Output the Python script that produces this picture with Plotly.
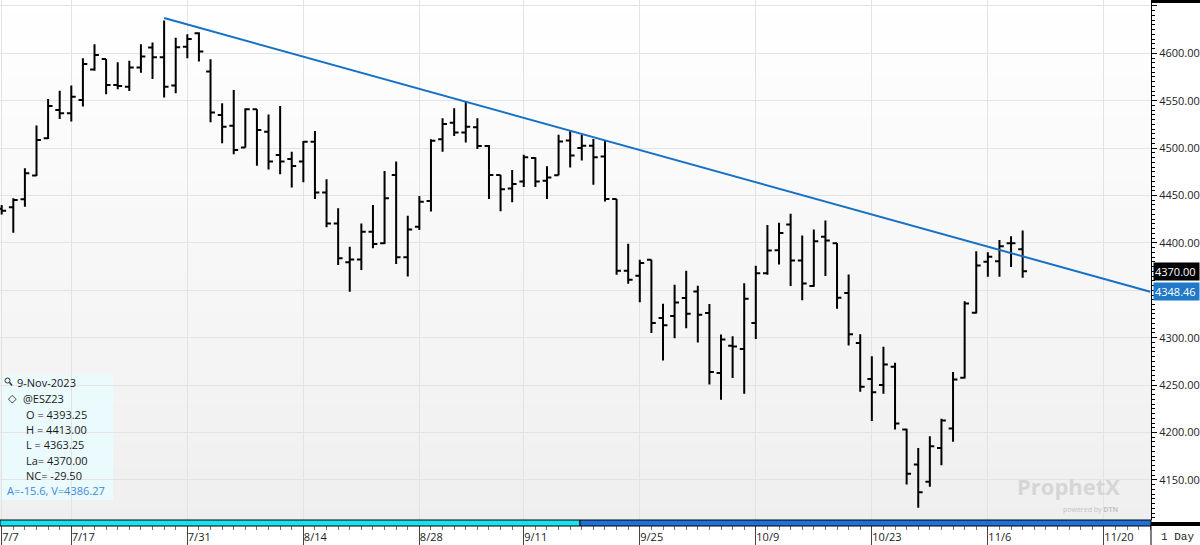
import plotly.graph_objects as go

# ---------------- data ----------------
dates = [
    "2023-07-07", "2023-07-10", "2023-07-11", "2023-07-12", "2023-07-13", "2023-07-14", "2023-07-17", "2023-07-18", "2023-07-19", "2023-07-20",
    "2023-07-21", "2023-07-24", "2023-07-25", "2023-07-26", "2023-07-27", "2023-07-28", "2023-07-31", "2023-08-01", "2023-08-02", "2023-08-03",
    "2023-08-04", "2023-08-07", "2023-08-08", "2023-08-09", "2023-08-10", "2023-08-11", "2023-08-14", "2023-08-15", "2023-08-16", "2023-08-17",
    "2023-08-18", "2023-08-21", "2023-08-22", "2023-08-23", "2023-08-24", "2023-08-25", "2023-08-28", "2023-08-29", "2023-08-30", "2023-08-31",
    "2023-09-01", "2023-09-05", "2023-09-06", "2023-09-07", "2023-09-08", "2023-09-11", "2023-09-12", "2023-09-13", "2023-09-14", "2023-09-15",
    "2023-09-18", "2023-09-19", "2023-09-20", "2023-09-21", "2023-09-22", "2023-09-25", "2023-09-26", "2023-09-27", "2023-09-28", "2023-09-29",
    "2023-10-02", "2023-10-03", "2023-10-04", "2023-10-05", "2023-10-06", "2023-10-09", "2023-10-10", "2023-10-11", "2023-10-12", "2023-10-13",
    "2023-10-16", "2023-10-17", "2023-10-18", "2023-10-19", "2023-10-20", "2023-10-23", "2023-10-24", "2023-10-25", "2023-10-26", "2023-10-27",
    "2023-10-30", "2023-10-31", "2023-11-01", "2023-11-02", "2023-11-03", "2023-11-06", "2023-11-07", "2023-11-08", "2023-11-09",
]

opens = [
    4436.00, 4437.50, 4446.00, 4471.00, 4510.25, 4540.25, 4536.75, 4550.75, 4583.00, 4594.00,
    4566.50, 4564.75, 4585.00, 4606.00, 4595.75, 4566.00, 4607.00, 4621.00, 4580.75, 4535.00,
    4523.50, 4500.50, 4541.00, 4517.25, 4492.75, 4488.50, 4485.75, 4506.75, 4453.25, 4420.50,
    4379.50, 4382.50, 4411.75, 4399.50, 4471.50, 4384.75, 4417.00, 4444.25, 4509.25, 4526.75,
    4516.50, 4522.00, 4502.25, 4471.50, 4457.50, 4464.75, 4489.50, 4465.50, 4471.25, 4508.00,
    4500.00, 4502.50, 4491.25, 4446.25, 4370.50, 4365.25, 4382.25, 4320.75, 4323.00, 4341.75,
    4348.75, 4326.00, 4262.75, 4291.50, 4288.00, 4315.50, 4368.00, 4392.25, 4419.50, 4381.50,
    4354.50, 4406.50, 4399.50, 4347.25, 4294.50, 4256.50, 4250.00, 4269.25, 4203.25, 4166.25,
    4148.00, 4183.75, 4204.25, 4257.75, 4326.25, 4380.00, 4380.75, 4399.50, 4393.25,
]

highs = [
    4440.00, 4447.00, 4478.75, 4523.75, 4551.75, 4560.50, 4566.00, 4594.75, 4609.50, 4594.00,
    4590.50, 4592.25, 4609.50, 4611.25, 4634.50, 4616.50, 4620.00, 4622.25, 4593.75, 4547.25,
    4561.25, 4542.00, 4541.00, 4535.50, 4544.50, 4496.25, 4507.50, 4518.00, 4467.00, 4436.50,
    4396.00, 4420.50, 4440.00, 4475.75, 4485.75, 4428.75, 4449.50, 4509.25, 4531.50, 4542.00,
    4549.00, 4531.50, 4503.25, 4471.50, 4477.00, 4493.00, 4490.25, 4480.75, 4514.00, 4518.50,
    4514.00, 4509.50, 4508.00, 4446.25, 4399.00, 4382.25, 4382.25, 4335.75, 4355.75, 4370.50,
    4354.75, 4335.50, 4303.25, 4301.50, 4357.50, 4376.00, 4419.00, 4421.25, 4430.75, 4407.75,
    4414.00, 4423.50, 4400.00, 4366.75, 4303.50, 4280.50, 4290.50, 4273.50, 4204.00, 4183.75,
    4196.00, 4214.50, 4263.75, 4338.50, 4391.25, 4390.25, 4403.00, 4407.00, 4413.00,
]

lows = [
    4430.00, 4410.75, 4438.25, 4470.50, 4509.50, 4530.75, 4528.00, 4543.75, 4581.50, 4556.75,
    4562.00, 4560.25, 4579.50, 4573.00, 4553.25, 4557.75, 4594.75, 4591.25, 4527.25, 4505.00,
    4493.50, 4500.50, 4481.25, 4477.50, 4472.50, 4458.50, 4464.00, 4446.25, 4416.50, 4376.75,
    4348.50, 4371.50, 4394.25, 4398.75, 4377.75, 4364.50, 4413.50, 4433.00, 4496.25, 4512.75,
    4506.00, 4499.00, 4446.25, 4433.50, 4442.75, 4459.00, 4459.00, 4446.25, 4471.25, 4479.50,
    4487.00, 4461.25, 4443.75, 4366.50, 4357.00, 4337.50, 4305.00, 4276.00, 4299.50, 4310.00,
    4295.00, 4250.50, 4234.50, 4257.50, 4241.00, 4298.50, 4366.50, 4377.25, 4354.50, 4339.50,
    4353.75, 4365.00, 4330.50, 4291.75, 4243.00, 4212.00, 4241.00, 4203.25, 4145.25, 4120.50,
    4142.75, 4165.50, 4190.25, 4257.00, 4325.50, 4364.25, 4364.25, 4374.50, 4363.25,
]

closes = [
    4434.00, 4445.25, 4473.50, 4508.50, 4544.50, 4536.75, 4554.25, 4588.75, 4598.25, 4566.50,
    4565.50, 4585.00, 4596.50, 4595.75, 4564.75, 4606.25, 4615.00, 4601.75, 4537.50, 4522.50,
    4498.00, 4541.00, 4519.00, 4485.75, 4485.75, 4481.00, 4506.75, 4453.25, 4420.50, 4383.75,
    4382.50, 4411.75, 4398.75, 4447.00, 4384.75, 4414.25, 4443.50, 4507.75, 4525.50, 4516.50,
    4522.50, 4502.25, 4471.50, 4456.50, 4462.00, 4490.25, 4464.75, 4469.00, 4507.00, 4492.25,
    4502.50, 4490.25, 4446.25, 4370.50, 4361.00, 4378.75, 4315.50, 4313.00, 4337.25, 4325.25,
    4324.25, 4263.75, 4298.00, 4290.75, 4341.00, 4368.00, 4392.00, 4410.50, 4381.50, 4357.25,
    4401.75, 4402.50, 4342.00, 4303.50, 4248.25, 4242.50, 4271.75, 4209.50, 4156.50, 4137.00,
    4185.50, 4212.75, 4256.00, 4336.00, 4376.25, 4385.25, 4396.50, 4399.50, 4370.00,
]

# trend line (drawn from the 7/27 high through the right edge)
trend_dates = ["2023-07-27", "2023-11-24"]
trend_values = [4637.20, 4348.46]

# info panel values
symbol = "@ESZ23"
cursor_label = "9-Nov-2023"
trend_angle = -15.6
trend_value_at_cursor = 4386.27

# axis ticks
x_tick_dates = ["2023-07-07", "2023-07-17", "2023-07-31", "2023-08-14", "2023-08-28", "2023-09-11",
                "2023-09-25", "2023-10-09", "2023-10-23", "2023-11-06", "2023-11-20"]
x_tick_labels = ["7/7", "7/17", "7/31", "8/14", "8/28", "9/11", "9/25", "10/9", "10/23", "11/6", "11/20"]
y_tick_values = [4150, 4200, 4250, 4300, 4350, 4400, 4450, 4500, 4550, 4600, 4650]
# 4350.00 is hidden behind the price tags in the reference
y_tick_labels = ["4150.00", "4200.00", "4250.00", "4300.00", "", "4400.00",
                 "4450.00", "4500.00", "4550.00", "4600.00", ""]
holidays = ["2023-09-04"]

# ---------------- geometry helpers ----------------
PW = 1151.0   # plot width in px
PH = 520.0    # plot height in px


def px(xp):
    return xp / PW


def py(yp):
    return (PH - yp) / PH


fig = go.Figure()

fig.add_trace(go.Ohlc(
    x=dates, open=opens, high=highs, low=lows, close=closes,
    increasing=dict(line=dict(color="black", width=2)),
    decreasing=dict(line=dict(color="black", width=2)),
    tickwidth=0.38, hoverinfo="skip", showlegend=False,
))

fig.add_trace(go.Scatter(
    x=trend_dates, y=trend_values, mode="lines",
    line=dict(color="#1670c6", width=2), hoverinfo="skip", showlegend=False,
))

shapes = []
# vertical gradient background
N = 40
for k in range(N):
    g = round(255 - (255 - 239) * (k + 0.5) / N)
    shapes.append(dict(type="rect", xref="paper", yref="paper", layer="below",
                       x0=0, x1=1, y0=1 - (k + 1) / N, y1=1 - k / N,
                       fillcolor=f"rgb({g},{g},{g})", line=dict(width=0)))
# info panel background
shapes.append(dict(type="rect", xref="paper", yref="paper", layer="below",
                   x0=px(2), x1=px(113), y0=py(500), y1=py(375),
                   fillcolor="#ebfafd", line=dict(width=0)))
# scroll band under the plot
shapes.append(dict(type="rect", xref="paper", yref="paper", layer="above",
                   x0=0, x1=px(580), y0=py(526), y1=py(520),
                   fillcolor="#18e2ee", line=dict(color="black", width=1)))
shapes.append(dict(type="rect", xref="paper", yref="paper", layer="above",
                   x0=px(580), x1=1, y0=py(526), y1=py(520),
                   fillcolor="#1f70d8", line=dict(color="black", width=1)))
shapes.append(dict(type="rect", xref="paper", yref="paper", layer="above",
                   x0=1, x1=px(1200), y0=py(526), y1=py(522),
                   fillcolor="black", line=dict(width=0)))
# top black bar over the price axis
shapes.append(dict(type="rect", xref="paper", yref="paper", layer="above",
                   x0=1, x1=px(1200), y0=py(3), y1=1,
                   fillcolor="black", line=dict(width=0)))
# separator for the period box
shapes.append(dict(type="line", xref="paper", yref="paper", layer="above",
                   x0=1, x1=1, y0=py(526), y1=py(545),
                   line=dict(color="black", width=1)))
# magnifier icon
shapes.append(dict(type="circle", xref="paper", yref="paper", layer="above",
                   x0=px(5), x1=px(10), y0=py(383), y1=py(378),
                   line=dict(color="#333", width=1)))
shapes.append(dict(type="line", xref="paper", yref="paper", layer="above",
                   x0=px(9.5), x1=px(12), y0=py(382.5), y1=py(385.5),
                   line=dict(color="#333", width=1.5)))

annotations = []


def info(text, xp, yp, color="#1a1a1a", size=11, family="Open Sans, sans-serif"):
    annotations.append(dict(text=text, xref="paper", yref="paper", x=px(xp), y=py(yp),
                            xanchor="left", yanchor="middle", showarrow=False,
                            font=dict(size=size, color=color, family=family)))


net_change = closes[-1] - closes[-2]
info(cursor_label, 15, 382)
info("◇", 6, 398, size=11, family="DejaVu Sans")
info(symbol, 21, 398)
info(f"O = {opens[-1]:.2f}", 24, 414)
info(f"H = {highs[-1]:.2f}", 24, 429.5)
info(f"L = {lows[-1]:.2f}", 24, 444.5)
info(f"La= {closes[-1]:.2f}", 24, 460)
info(f"NC= {net_change:.2f}", 24, 475.5)
info(f"A={trend_angle:.1f}, V={trend_value_at_cursor:.2f}", 5, 490, color="#3a8ad6")

# price tags on the axis
annotations.append(dict(text=f"{closes[-1]:.2f}", xref="paper", yref="y", x=1, y=closes[-1],
                        xanchor="left", yanchor="middle", xshift=2, showarrow=False,
                        bgcolor="black", borderpad=1, width=43, align="left",
                        font=dict(size=11, color="white", family="Open Sans, sans-serif")))
annotations.append(dict(text=f"{trend_values[-1]:.2f}", xref="paper", yref="y", x=1, y=trend_values[-1],
                        xanchor="left", yanchor="middle", xshift=2, showarrow=False,
                        bgcolor="#1f78c8", borderpad=1, width=43, align="left",
                        font=dict(size=11, color="white", family="Open Sans, sans-serif")))
# period box
annotations.append(dict(text="1 Day", xref="paper", yref="paper", x=px(1159), y=py(537),
                        xanchor="left", yanchor="middle", showarrow=False,
                        font=dict(size=11, color="#222", family="Liberation Mono, monospace")))
# watermark
annotations.append(dict(text="<b>ProphetX</b>", xref="paper", yref="paper", x=px(1122), y=py(486),
                        xanchor="right", yanchor="middle", showarrow=False,
                        font=dict(size=22, color="#d6d6d6", family="Open Sans, sans-serif")))
annotations.append(dict(text="powered by <b>DTN</b>", xref="paper", yref="paper", x=px(1121), y=py(509),
                        xanchor="right", yanchor="middle", showarrow=False,
                        font=dict(size=7, color="#c4c4c4", family="Open Sans, sans-serif")))

fig.update_layout(
    width=1200, height=545,
    margin=dict(l=0, r=49, t=0, b=25, pad=0),
    paper_bgcolor="white", plot_bgcolor="rgba(0,0,0,0)",
    showlegend=False, hovermode=False,
    font=dict(family="Open Sans, sans-serif", size=11, color="#222"),
    shapes=shapes, annotations=annotations,
    xaxis=dict(
        type="date",
        range=["2023-07-06 20:30", "2023-11-24 01:30"],
        rangebreaks=[dict(bounds=["sat", "mon"]), dict(values=holidays)],
        rangeslider=dict(visible=False),
        tickmode="array", tickvals=x_tick_dates, ticktext=x_tick_labels,
        ticks="outside", ticklen=25, tickcolor="#444", tickwidth=1,
        ticklabelposition="outside right", ticklabelstandoff=7,
        tickfont=dict(size=11, color="#222"),
        showgrid=True, gridcolor="#e3e3e3", gridwidth=1,
        zeroline=False, showline=False,
        minor=dict(ticks="outside", ticklen=9, tickcolor="#777", tickwidth=1,
                   tickmode="linear", tick0="2023-07-07", dtick=86400000, showgrid=False),
    ),
    yaxis=dict(
        side="right",
        range=[4107.7, 4656.2],
        tickmode="array", tickvals=y_tick_values, ticktext=y_tick_labels,
        ticks="outside", ticklen=5, tickcolor="black", tickwidth=1,
        tickfont=dict(size=11, color="#222"),
        showline=True, linecolor="black", linewidth=1,
        showgrid=True, gridcolor="#e3e3e3", gridwidth=1, zeroline=False,
        minor=dict(ticks="outside", ticklen=3, tickcolor="black", tickwidth=1,
                   tickmode="linear", tick0=0, dtick=5, showgrid=False),
    ),
)

fig.write_html("out.html")
